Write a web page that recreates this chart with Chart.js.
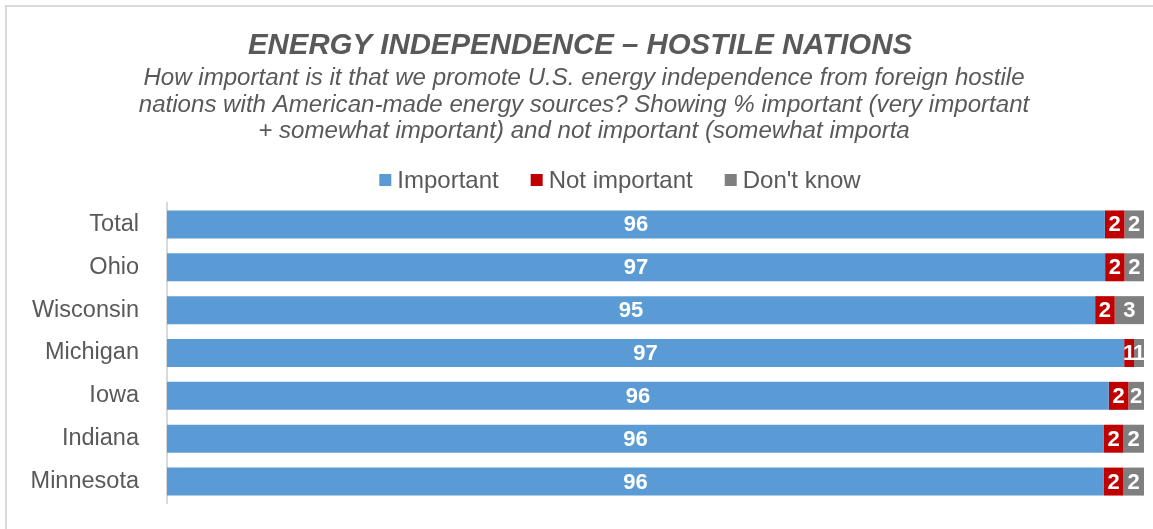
<!DOCTYPE html>
<html>
<head>
<meta charset="utf-8">
<script src="https://cdn.jsdelivr.net/npm/chart.js@4.4.1/dist/chart.umd.min.js"></script>
<style>
  html, body { margin: 0; padding: 0; background: #ffffff; overflow: hidden; }
  #frame { position: absolute; left: 5px; top: 5px; width: 1200px; height: 600px; border: 2px solid #d9d9d9; box-sizing: border-box; }
  #wrap { position: absolute; left: 0; top: 0; width: 1153px; height: 529px; }
</style>
</head>
<body>
<div id="frame"></div>
<div id="wrap"><canvas id="c" width="1153" height="529"></canvas></div>
<script>
// ---- Data (bars are 100% stacked) ----
const categories = ['Total', 'Ohio', 'Wisconsin', 'Michigan', 'Iowa', 'Indiana', 'Minnesota'];
const important    = [96, 96.5, 95, 96.5, 96.4, 95.9, 95.9];
const notImportant = [2, 2, 2, 1, 2.0, 2.0, 2.0];
const dontKnow     = [2, 2, 3, 1, 1.6, 2.1, 2.1];
const seriesNames  = ['Important', 'Not important', "Don't know"];

const titleText = 'ENERGY INDEPENDENCE \u2013 HOSTILE NATIONS';
const subtitleLines = [
  'How important is it that we promote U.S. energy independence from foreign hostile',
  'nations with American-made energy sources? Showing % important (very important',
  '+ somewhat important) and not important (somewhat importa'
];

const raw = [important, notImportant, dontKnow];
const totals = categories.map((_, i) => raw.reduce((s, arr) => s + arr[i], 0));
const colors = ['#5B9BD5', '#C00000', '#7F7F7F'];
const FONT = "'Liberation Sans', Arial, sans-serif";
const TXT = '#595959';

const datasets = raw.map((arr, k) => ({
  label: seriesNames[k],
  data: arr.map((v, i) => v / totals[i] * 100),
  rawValues: arr,
  backgroundColor: colors[k],
  borderWidth: 0,
  barPercentage: 0.653,
  categoryPercentage: 1.0
}));

// value labels inside bar segments
const barLabels = {
  id: 'barLabels',
  afterDatasetsDraw(chart) {
    const ctx = chart.ctx;
    ctx.save();
    ctx.font = 'bold 22px ' + FONT;
    ctx.fillStyle = '#ffffff';
    ctx.textAlign = 'center';
    ctx.textBaseline = 'middle';
    chart.data.datasets.forEach((ds, di) => {
      const meta = chart.getDatasetMeta(di);
      meta.data.forEach((el, i) => {
        const cx = (el.x + el.base) / 2;
        ctx.fillText(String(Math.round(ds.rawValues[i])), cx, el.y + 1);
      });
    });
    ctx.restore();
  }
};

// title, subtitle and legend drawn in the header area
const header = {
  id: 'header',
  afterDraw(chart) {
    const ctx = chart.ctx;
    ctx.save();
    ctx.fillStyle = TXT;
    ctx.textAlign = 'center';
    ctx.textBaseline = 'alphabetic';
    ctx.font = 'italic bold 29.4px ' + FONT;
    ctx.fillText(titleText, 580, 54);
    ctx.font = 'italic 24.1px ' + FONT;
    subtitleLines.forEach((line, i) => ctx.fillText(line, 584, 85 + i * 26.5));

    // legend
    ctx.font = '24px ' + FONT;
    ctx.textAlign = 'left';
    const box = 12, gap = 6, spacing = 32;
    const items = chart.data.datasets.map(ds => ({ text: ds.label, color: ds.backgroundColor, w: ctx.measureText(ds.label).width }));
    const total = items.reduce((s, it) => s + box + gap + it.w, 0) + spacing * (items.length - 1);
    let x = 620 - total / 2;
    items.forEach(it => {
      ctx.fillStyle = it.color;
      ctx.fillRect(x, 174, box, box);
      ctx.fillStyle = TXT;
      ctx.fillText(it.text, x + box + gap, 188);
      x += box + gap + it.w + spacing;
    });
    ctx.restore();
  }
};

new Chart(document.getElementById('c'), {
  type: 'bar',
  data: { labels: categories, datasets },
  options: {
    indexAxis: 'y',
    responsive: false,
    animation: false,
    layout: { padding: { left: 0, right: 9, top: 203, bottom: 26 } },
    scales: {
      x: { stacked: true, min: 0, max: 100, display: false },
      y: {
        stacked: true,
        grid: { display: false },
        border: { display: true, color: '#d9d9d9', width: 2 },
        ticks: { color: TXT, font: { family: FONT, size: 23.5 }, padding: 20 },
        afterFit(scale) { scale.width = 167; scale.paddingTop = 0; scale.paddingBottom = 0; }
      }
    },
    plugins: {
      title: { display: false },
      subtitle: { display: false },
      legend: { display: false },
      tooltip: { enabled: false }
    }
  },
  plugins: [barLabels, header]
});
</script>
</body>
</html>
